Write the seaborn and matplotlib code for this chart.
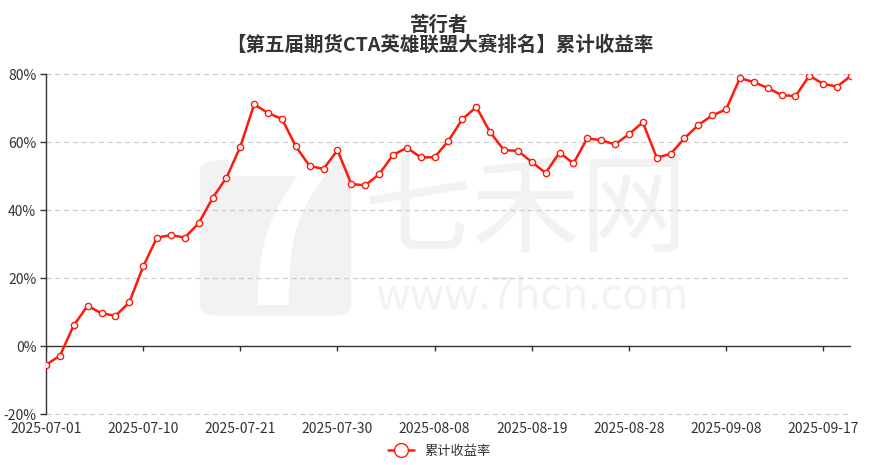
import matplotlib
matplotlib.use("Agg")
import matplotlib.pyplot as plt
import seaborn as sns
import pandas as pd
from matplotlib.lines import Line2D
from matplotlib.patches import FancyBboxPatch

# trading days shown on the category axis
dates = (
    ["2025-07-%02d" % d for d in [1, 2, 3, 4, 7, 8, 9, 10, 11, 14, 15, 16, 17, 18, 21, 22,
                                  23, 24, 25, 28, 29, 30, 31]]
    + ["2025-08-%02d" % d for d in [1, 4, 5, 6, 7, 8, 11, 12, 13, 14, 15, 18, 19, 20, 21,
                                    22, 25, 26, 27, 28, 29]]
    + ["2025-09-%02d" % d for d in [1, 2, 3, 4, 5, 8, 9, 10, 11, 12, 15, 16, 17, 18, 19]]
)

# cumulative return, %
cum_return = [
    -5.5, -2.9, 6.1, 11.8, 9.6, 8.9, 12.8, 23.4, 31.9, 32.6,
    31.9, 36.1, 43.5, 49.5, 58.6, 71.1, 68.5, 66.8, 58.7, 52.9,
    52.1, 57.6, 47.6, 47.3, 50.5, 56.2, 58.3, 55.5, 55.5, 60.4,
    66.7, 70.3, 62.9, 57.6, 57.4, 54.1, 50.9, 56.9, 53.7, 61.1,
    60.5, 59.3, 62.3, 65.8, 55.4, 56.5, 61.1, 65.0, 67.8, 69.6,
    78.8, 77.6, 75.9, 73.8, 73.5, 79.5, 77.1, 76.3, 79.5,
]

y_ticks = [-20, 0, 20, 40, 60, 80]
tick_step = 7

title_main = "苦行者"
title_sub = "【第五届期货CTA英雄联盟大赛排名】累计收益率"
series_name = "累计收益率"

df = pd.DataFrame({"idx": range(len(dates)), "date": dates, "value": cum_return})

sns.set_theme(style="white")
plt.rcParams["font.family"] = ["Noto Sans CJK SC", "DejaVu Sans"]

W, H = 879, 465
fig = plt.figure(figsize=(W / 100, H / 100), dpi=100)
ax = fig.add_axes([46 / W, 1 - 414 / H, (851 - 46) / W, (414 - 74) / H])

text_color = "#333333"
red = "#ff1a0a"
wm = "#f2f2f2"

# watermark (logo block + site name)
ax.add_patch(FancyBboxPatch((0.191, 0.288), 0.188, 0.459, transform=ax.transAxes,
                            boxstyle="round,pad=0,rounding_size=0.03",
                            facecolor=wm, edgecolor="none", zorder=0))
ax.text(0.29, 0.50, "7", transform=ax.transAxes, fontsize=150, fontweight="bold",
        color="white", ha="center", va="center", zorder=0)
ax.text(0.596, 0.59, "七禾网", transform=ax.transAxes, fontsize=78, color=wm,
        ha="center", va="center", zorder=0)
ax.text(0.605, 0.345, "www.7hcn.com", transform=ax.transAxes, fontsize=31, color=wm,
        ha="center", va="center", zorder=0)

sns.lineplot(data=df, x="idx", y="value", ax=ax, color=red, linewidth=1.8,
             marker="o", markersize=4.5, markerfacecolor="white",
             markeredgecolor=red, markeredgewidth=1.0, zorder=5)

ax.set_xlim(0, len(dates) - 1)
ax.set_ylim(y_ticks[0], y_ticks[-1])

for yv in y_ticks:
    if yv != 0:
        ax.axhline(yv, color="#cccccc", linestyle=(0, (4, 3)), linewidth=0.9,
                   zorder=1, clip_on=False)
ax.axhline(0, color=text_color, linewidth=1.0, zorder=3)

# x ticks hang off the zero line
tick_pos = list(range(0, len(dates), tick_step))
ax.vlines(tick_pos, -1.5, 0, color=text_color, linewidth=1.0, zorder=3)

ax.set_xticks(tick_pos)
ax.set_xticklabels([dates[i] for i in tick_pos], fontsize=10, color=text_color)
ax.set_yticks(y_ticks)
ax.set_yticklabels([f"{v}%" for v in y_ticks], fontsize=10, color=text_color)
ax.tick_params(axis="x", length=0, pad=6)
ax.tick_params(axis="y", length=4, color=text_color, width=1.0, pad=3, left=True)

for side in ["top", "right", "bottom"]:
    ax.spines[side].set_visible(False)
ax.spines["left"].set_color(text_color)
ax.spines["left"].set_linewidth(1.0)
ax.set_xlabel("")
ax.set_ylabel("")

fig.text(0.5, 1 - 25 / H, title_main, ha="center", va="center", fontsize=14,
         fontweight="bold", color=text_color)
fig.text(0.5, 1 - 45 / H, title_sub, ha="center", va="center", fontsize=14,
         fontweight="bold", color=text_color)

handle = Line2D([0], [0], color=red, linewidth=1.8, marker="o", markersize=10,
                markerfacecolor="white", markeredgecolor=red)
fig.legend([handle], [series_name], loc="center", bbox_to_anchor=(0.5, 1 - 451 / H),
           frameon=False, fontsize=9.5, handlelength=2.0, labelcolor=text_color)

fig.savefig("out.png", dpi=100, facecolor="white")
